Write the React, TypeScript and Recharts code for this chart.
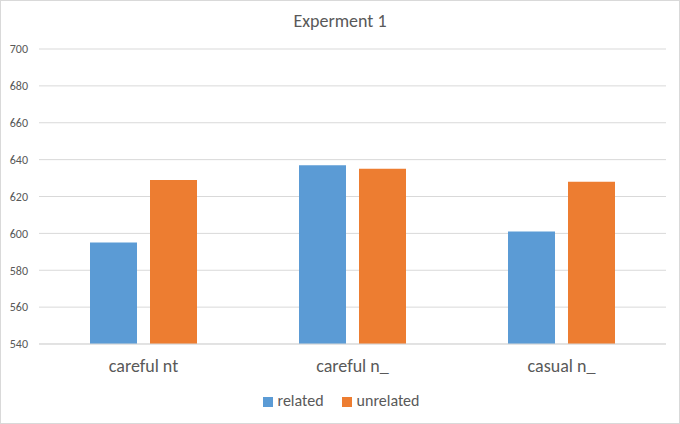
import React from "react";
import { BarChart, Bar, XAxis, YAxis, CartesianGrid, Legend } from "recharts";

const categories = ["careful nt", "careful n_", "casual n_"];
const related = [595, 637, 601];
const unrelated = [629, 635, 628];
const yTicks = [540, 560, 580, 600, 620, 640, 660, 680, 700];

const data = categories.map((name, i) => ({
  name,
  related: related[i],
  unrelated: unrelated[i],
}));

const FONT = "Carlito, Calibri, Lato, 'Liberation Sans', sans-serif";
const TEXT = "#595959";

export default function App() {
  return (
    <div
      style={{
        position: "fixed",
        left: 0,
        top: 0,
        width: 680,
        height: 424,
        background: "#fff",
        fontFamily: FONT,
      }}
    >
      <div
        style={{
          position: "absolute",
          inset: 0,
          border: "1px solid #d9d9d9",
          boxSizing: "border-box",
          pointerEvents: "none",
        }}
      />
      <div
        style={{
          position: "absolute",
          top: 10,
          width: 680,
          textAlign: "center",
          fontSize: 18,
          color: TEXT,
        }}
      >
        Experment 1
      </div>
      <BarChart
        width={680}
        height={424}
        data={data}
        margin={{ top: 49, right: 14, bottom: 50, left: 0 }}
        barGap={13}
        barCategoryGap={51}
      >
        <CartesianGrid vertical={false} stroke="#d9d9d9" />
        <XAxis
          dataKey="name"
          axisLine={{ stroke: "#d9d9d9" }}
          tickLine={false}
          tickSize={0}
          tickMargin={15}
          tick={{ fontSize: 18, fill: TEXT, fontFamily: FONT }}
        />
        <YAxis
          domain={[540, 700]}
          ticks={yTicks}
          width={39}
          axisLine={false}
          tickLine={false}
          tickSize={0}
          tickMargin={11}
          tick={{ fontSize: 12, fill: TEXT, fontFamily: FONT }}
        />
        <Legend
          layout="horizontal"
          verticalAlign="middle"
          align="center"
          iconType="square"
          iconSize={10}
          wrapperStyle={{ top: 391, left: 10, width: 680, fontSize: 16, fontFamily: FONT }}
          formatter={(v) => (
            <span style={{ color: TEXT, marginLeft: 1, marginRight: 8 }}>{v}</span>
          )}
        />
        <Bar dataKey="related" fill="#5B9BD5" isAnimationActive={false} />
        <Bar dataKey="unrelated" fill="#ED7D31" isAnimationActive={false} />
      </BarChart>
    </div>
  );
}
